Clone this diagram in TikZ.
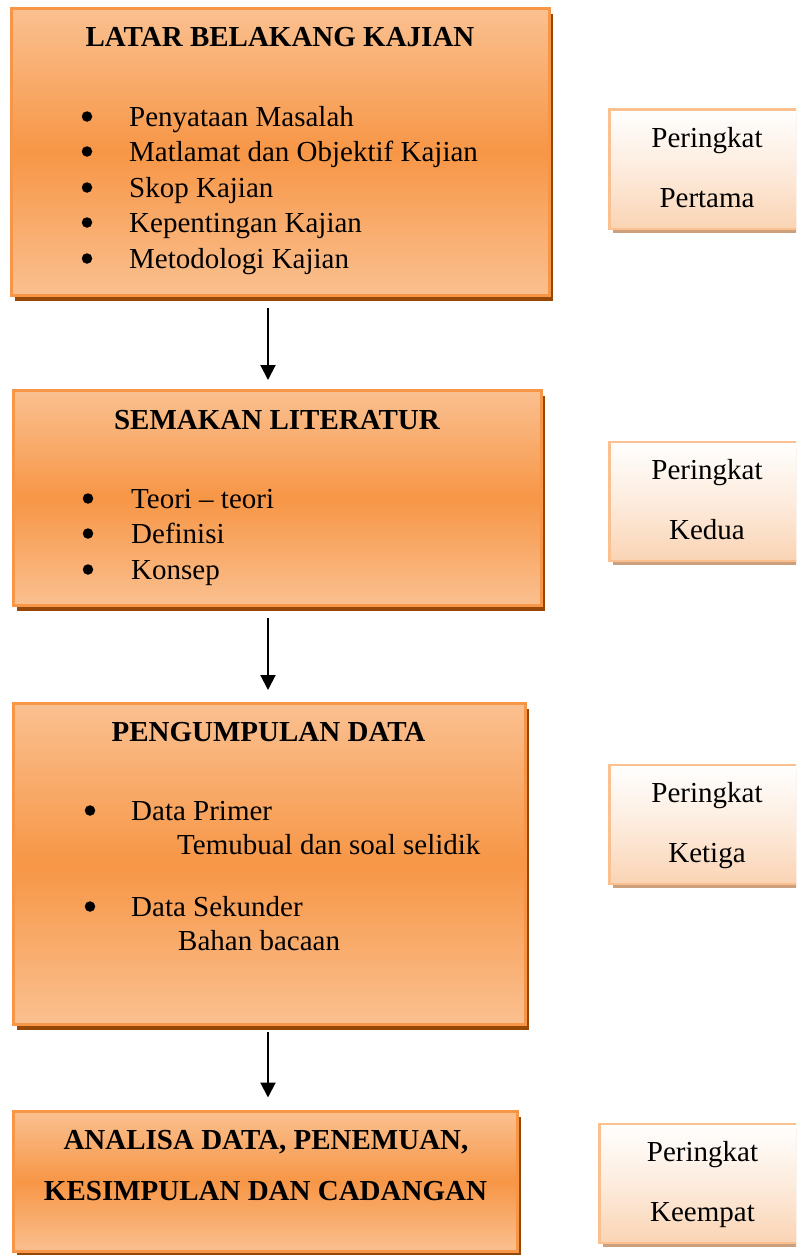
\documentclass[tikz,border=0pt]{standalone}
\usepackage{fontspec}
\setmainfont{Liberation Serif}
\usetikzlibrary{arrows.meta,shadows,calc}
\definecolor{orlight}{RGB}{250,192,144}
\definecolor{ordark}{RGB}{247,150,70}
\definecolor{orborder}{RGB}{247,150,70}
\definecolor{shbrown}{RGB}{152,72,6}
\definecolor{peach}{RGB}{250,212,180}
\definecolor{pborder}{RGB}{250,192,144}
\definecolor{shtan}{RGB}{205,160,125}
\begin{document}
\begin{tikzpicture}[x=1pt,y=-1pt,
  mainbox/.style={draw=orborder, line width=3pt, top color=orlight, bottom color=orlight, middle color=ordark, inner sep=0pt, outer sep=0pt, drop shadow={shadow xshift=3.5pt, shadow yshift=-5.5pt, fill=shbrown, opacity=1}},
  sidebox/.style={draw=pborder, line width=2.5pt, top color=white, bottom color=peach, middle color=peach!45!white, inner sep=0pt, outer sep=0pt, drop shadow={shadow xshift=3pt, shadow yshift=-4pt, fill=shtan, opacity=1}},
  txt/.style={anchor=base, inner sep=0pt, font=\fontsize{29}{35}\selectfont},
  ttl/.style={anchor=base, inner sep=0pt, font=\fontsize{29}{35}\selectfont\bfseries},
  item/.style={anchor=base west, inner sep=0pt, font=\fontsize{29}{35}\selectfont},
  bul/.style={circle, fill=black, minimum size=10.5pt, inner sep=0pt},
  arr/.style={line width=2pt, -{Triangle[width=15pt,length=15pt]}}
]
\path[use as bounding box] (0,0) rectangle (796,1255);
\clip (0,0) rectangle (796,1255);

% main boxes
\node[mainbox, minimum width=538pt, minimum height=287pt] (b1) at (280.5,152) {};
\node[mainbox, minimum width=528pt, minimum height=215pt] (b2) at (277.5,498) {};
\node[mainbox, minimum width=512pt, minimum height=321pt] (b3) at (269.5,864) {};
\node[mainbox, minimum width=504pt, minimum height=140pt] (b4) at (265.5,1181.5) {};

% side boxes
\node[sidebox, minimum width=195pt, minimum height=119.5pt] (s1) at (707,169) {};
\node[sidebox, minimum width=195pt, minimum height=119pt] (s2) at (707,501.5) {};
\node[sidebox, minimum width=195pt, minimum height=119pt] (s3) at (707,824.5) {};
\node[sidebox, minimum width=205pt, minimum height=119pt] (s4) at (702,1183.5) {};

% box 1 text
\node[ttl] (t1) at (280,47) {LATAR BELAKANG KAJIAN};
\node[bul] (b1u1) at (87,116.5) {};
\node[item] (b1i1) at (129,126) {Penyataan Masalah};
\node[bul] (b1u2) at (87,151.5) {};
\node[item] (b1i2) at (129,161) {Matlamat dan Objektif Kajian};
\node[bul] (b1u3) at (87,187.5) {};
\node[item] (b1i3) at (129,197) {Skop Kajian};
\node[bul] (b1u4) at (87,222.5) {};
\node[item] (b1i4) at (129,232) {Kepentingan Kajian};
\node[bul] (b1u5) at (87,258.5) {};
\node[item] (b1i5) at (129,268) {Metodologi Kajian};

% box 2 text
\node[ttl] (t2) at (277,429) {SEMAKAN LITERATUR};
\node[bul] (b2u1) at (88,498.5) {};
\node[item] (b2i1) at (131,508) {Teori -- teori};
\node[bul] (b2u2) at (88,533.5) {};
\node[item] (b2i2) at (131,543) {Definisi};
\node[bul] (b2u3) at (88,569.5) {};
\node[item] (b2i3) at (131,579) {Konsep};

% box 3 text
\node[ttl] (t3) at (268.5,741) {PENGUMPULAN DATA};
\node[bul] (b3u1) at (90,810.5) {};
\node[item] (b3i1) at (131,820) {Data Primer};
\node[item] (b3i1a) at (177,854) {Temubual dan soal selidik};
\node[bul] (b3u2) at (90,906.5) {};
\node[item] (b3i2) at (131,916) {Data Sekunder};
\node[item] (b3i2a) at (178,950) {Bahan bacaan};

% box 4 text
\node[ttl] (t4a) at (266,1149) {ANALISA DATA, PENEMUAN,};
\node[ttl] (t4b) at (265.5,1200) {KESIMPULAN DAN CADANGAN};

% side text
\node[txt] (p1a) at (707,147) {Peringkat};
\node[txt] (p1b) at (707,207) {Pertama};
\node[txt] (p2a) at (707,479) {Peringkat};
\node[txt] (p2b) at (707,539) {Kedua};
\node[txt] (p3a) at (707,802) {Peringkat};
\node[txt] (p3b) at (707,862) {Ketiga};
\node[txt] (p4a) at (702.5,1161) {Peringkat};
\node[txt] (p4b) at (702.5,1221) {Keempat};

% arrows
\coordinate (ax) at (268,0);
\draw[arr, shorten <=12.5pt, shorten >=10.5pt] (b1.south -| ax) -- (b2.north -| ax);
\draw[arr, shorten <=12.5pt, shorten >=13.5pt] (b2.south -| ax) -- (b3.north -| ax);
\draw[arr, shorten <=7.5pt, shorten >=14pt] (b3.south -| ax) -- (b4.north -| ax);
\end{tikzpicture}
\end{document}
